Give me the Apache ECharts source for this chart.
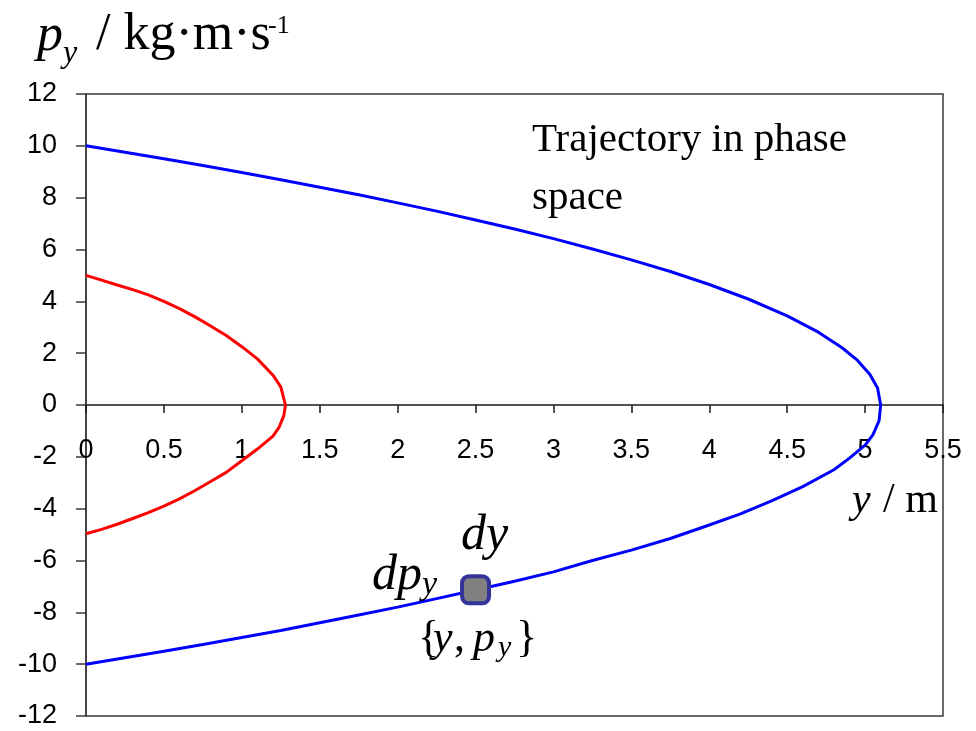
<!DOCTYPE html>
<html>
<head>
<meta charset="utf-8">
<script src="https://cdn.jsdelivr.net/npm/echarts@6/dist/echarts.min.js"></script>
<style>
  html, body { margin: 0; padding: 0; background: #ffffff; }
  #chart { width: 976px; height: 731px; }
</style>
</head>
<body>
<div id="chart"></div>
<script>
// Phase-space trajectories: position y (m) against momentum p_y (kg·m/s)

// Outer trajectory (blue), upper branch: moving up
const blueUpperY = [0, 0.25, 0.5, 0.75, 1.0, 1.25, 1.5, 1.75, 2.0, 2.25, 2.5, 2.75, 3.0, 3.25, 3.5, 3.75, 4.0, 4.25, 4.5, 4.7, 4.85, 4.95, 5.03, 5.08, 5.1];
const blueUpperP = [10, 9.75, 9.5, 9.24, 8.97, 8.69, 8.4, 8.11, 7.8, 7.48, 7.14, 6.79, 6.42, 6.02, 5.6, 5.15, 4.65, 4.09, 3.44, 2.81, 2.22, 1.73, 1.19, 0.66, 0];
// Outer trajectory (blue), lower branch: falling back
const blueLowerY = [5.1, 5.09, 5.05, 5.0, 4.9, 4.8, 4.6, 4.4, 4.2, 4.0, 3.75, 3.5, 3.25, 3.0, 2.75, 2.5, 2.25, 2.0, 1.75, 1.5, 1.25, 1.0, 0.75, 0.5, 0.25, 0];
const blueLowerP = [0, -0.6, -1.15, -1.55, -2.05, -2.5, -3.15, -3.7, -4.2, -4.63, -5.15, -5.6, -6.0, -6.44, -6.8, -7.14, -7.47, -7.8, -8.1, -8.4, -8.7, -8.97, -9.24, -9.5, -9.75, -10];

// Inner trajectory (red)
const redUpperY = [0, 0.1, 0.2, 0.3, 0.4, 0.5, 0.6, 0.7, 0.8, 0.9, 1.0, 1.1, 1.2, 1.25, 1.28];
const redUpperP = [5, 4.82, 4.63, 4.45, 4.25, 4.0, 3.72, 3.4, 3.05, 2.68, 2.25, 1.78, 1.15, 0.7, 0];
const redLowerY = [1.28, 1.27, 1.24, 1.2, 1.1, 1.0, 0.9, 0.8, 0.7, 0.6, 0.5, 0.4, 0.3, 0.2, 0.1, 0];
const redLowerP = [0, -0.4, -0.85, -1.2, -1.7, -2.15, -2.6, -2.95, -3.3, -3.62, -3.9, -4.15, -4.38, -4.6, -4.8, -4.97];

// Phase-space cell {y, p_y}
const cellY = 2.5;
const cellP = -7.13;

// Axis ranges
const xMin = 0, xMax = 5.5, xStep = 0.5;
const yMin = -12, yMax = 12, yStep = 2;

function pairs(xs, ys) { return xs.map((x, i) => [x, ys[i]]); }

const blueData = pairs(blueUpperY, blueUpperP).concat(pairs(blueLowerY, blueLowerP).slice(1));
const redData = pairs(redUpperY, redUpperP).concat(pairs(redLowerY, redLowerP).slice(1));

const serif = '"Liberation Serif", "Times New Roman", serif';
const sans = '"Liberation Sans", Arial, sans-serif';

// Grid box (pixels)
const gridTop = 94, gridBottom = 15, gridLeft = 86, gridRight = 33;
const plotH = 731 - gridTop - gridBottom;
// The horizontal axis sits on p_y = 0, raised from the bottom edge of the box
const xAxisLift = plotH * (0 - yMin) / (yMax - yMin);

// Text placed by its baseline
function txt(x, baseline, text, size, italic) {
  return {
    type: 'text', left: x, top: baseline - 0.79 * size, z: 100,
    style: { text: text, font: (italic ? 'italic ' : '') + size + 'px ' + serif, fill: '#000' }
  };
}

const chart = echarts.init(document.getElementById('chart'), null, { renderer: 'canvas' });
chart.setOption({
  animation: false,
  backgroundColor: '#ffffff',
  grid: {
    left: gridLeft, top: gridTop, right: gridRight, bottom: gridBottom,
    show: true, borderColor: '#3a3a3a', borderWidth: 1.5,
    containLabel: false, outerBoundsMode: 'none'
  },
  xAxis: {
    type: 'value', min: xMin, max: xMax, interval: xStep,
    position: 'bottom', offset: -xAxisLift,
    axisLine: { show: true, onZero: false, lineStyle: { color: '#1a1a1a', width: 1.5 } },
    axisTick: { show: true, inside: false, length: 8, lineStyle: { color: '#1a1a1a', width: 1.5 } },
    axisLabel: { color: '#000', fontFamily: sans, fontSize: 27, margin: 32 },
    splitLine: { show: false }
  },
  yAxis: {
    type: 'value', min: yMin, max: yMax, interval: yStep,
    axisLine: { show: true, lineStyle: { color: '#3a3a3a', width: 1.5 } },
    axisTick: { show: true, inside: false, length: 10, lineStyle: { color: '#3a3a3a', width: 1.5 } },
    axisLabel: { color: '#000', fontFamily: sans, fontSize: 27, margin: 29 },
    splitLine: { show: false }
  },
  series: [
    {
      type: 'line', data: blueData, showSymbol: false, smooth: false,
      lineStyle: { color: '#0000ff', width: 3 }, z: 3
    },
    {
      type: 'line', data: redData, showSymbol: false, smooth: false,
      lineStyle: { color: '#ff0000', width: 3 }, z: 3
    },
    {
      type: 'scatter', data: [[cellY, cellP]], symbol: 'roundRect', symbolSize: 27,
      itemStyle: { color: '#808080', borderColor: '#333399', borderWidth: 4, opacity: 1 }, z: 5
    }
  ],
  graphic: [
    // vertical axis title: p_y / kg·m·s^-1
    txt(37, 51, 'p', 52, true),
    txt(63, 63, 'y', 32, true),
    txt(96, 50, '/ kg·m·s', 52, false),
    txt(268, 34, '-1', 26, false),
    // horizontal axis title: y / m
    txt(852, 513, 'y', 42, true),
    txt(883, 513, '/ m', 42, false),
    // annotation
    txt(532, 152, 'Trajectory in phase', 41, false),
    txt(532, 210, 'space', 41, false),
    // cell labels
    txt(461, 550, 'dy', 50, true),
    txt(372, 590, 'dp', 50, true),
    txt(422, 595, 'y', 34, true),
    txt(418, 652, '{', 44, false),
    txt(433, 652, 'y', 44, true),
    txt(454, 652, ',', 44, false),
    txt(473, 652, 'p', 44, true),
    txt(498, 657, 'y', 30, true),
    txt(516, 652, '}', 44, false)
  ]
});
</script>
</body>
</html>
